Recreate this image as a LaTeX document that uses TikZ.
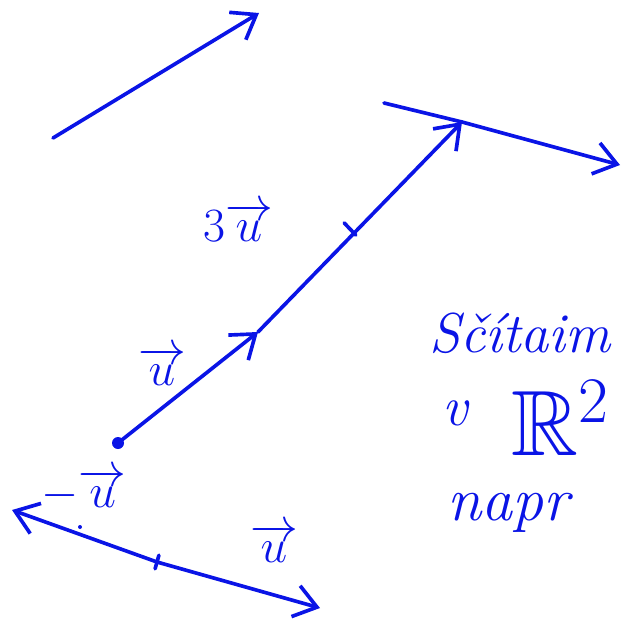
\RequirePackage{fix-cm}
\documentclass[tikz,border=0pt]{standalone}
\usepackage{amsmath,amssymb}
\usepackage{xcolor}
\usetikzlibrary{arrows.meta, positioning, calc}
\definecolor{penblue}{HTML}{0A14E6}

\begin{document}
\begin{tikzpicture}[x=0.025cm, y=-0.025cm,
      pen/.style={penblue, line width=2.6pt, line cap=round, line join=round},
      vec/.style={pen, -{Straight Barb[length=5.5mm, width=8mm, line width=2.6pt]}},
      lbl/.style={penblue, inner sep=1pt, font=\fontsize{34}{36}\selectfont},
      big/.style={penblue, font=\fontsize{40}{44}\selectfont\itshape}
    ]
      \useasboundingbox (0,0) rectangle (623,619);
      % free vector
      \coordinate (f0) at (53,138);
      \coordinate (f1) at (259,13);
      \draw[vec] (f0) -- (f1);
      % u and 3u from a point
      \coordinate (o) at (118,443);
      \coordinate (u1) at (258,332);
      \coordinate (u2) at (350,229);
      \coordinate (u3) at (462,122);
      \fill[penblue] (o) circle (6);
      \draw[vec] (o) -- (u1);
      \draw[vec] (u1) -- (u3);
      \draw[pen] ($(u2)!6pt!90:(u3)$) -- ($(u2)!6pt!-90:(u3)$);
      % sum line
      \coordinate (s0) at (384,103);
      \coordinate (s1) at (620,165);
      \draw[pen] (s0) -- (u3);
      \draw[vec] (u3) -- (s1);
      % u and -u
      \coordinate (m) at (157,562);
      \coordinate (mL) at (12,510);
      \coordinate (mR) at (320,608);
      \draw[vec] (m) -- (mL);
      \draw[vec] (m) -- (mR);
      \draw[pen] ($(m)!5pt!90:(mR)$) -- ($(m)!5pt!-90:(mR)$);
      \fill[penblue] (80,527) circle (2);
      % labels
      \node[lbl] (l3u) at (238,222) {$3\overrightarrow{u}$};
      \node[lbl] (lu) at (162,366) {$\overrightarrow{u}$};
      \node[lbl] (lmu) at (84,490) {$-\overrightarrow{u}$};
      \node[lbl] (lu2) at (274,543) {$\overrightarrow{u}$};
      \node[big] (t1) at (520,333) {Sčítaim};
      \node[big] (t2) at (455,413) {v};
      \node[penblue, font=\fontsize{66}{70}\selectfont] (t3) at (560,418) {$\mathbb{R}^2$};
      \node[big, font=\fontsize{44}{48}\selectfont\itshape] (t4) at (508,513) {napr};
    \end{tikzpicture}
\end{document}
